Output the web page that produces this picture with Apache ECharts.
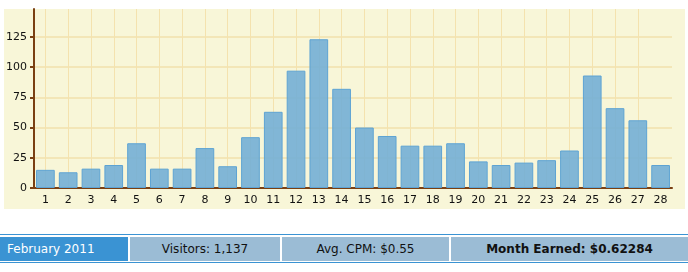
<!DOCTYPE html>
<html><head><meta charset="utf-8">
<script src="https://cdn.jsdelivr.net/npm/echarts@6/dist/echarts.min.js"></script>
<style>
html,body{margin:0;padding:0;width:688px;height:272px;background:#fff;overflow:hidden;font-family:"DejaVu Sans",Verdana,sans-serif;}
#bg{position:absolute;left:4px;top:9px;width:681px;height:200px;background:#f8f6d8;}
#chart{position:absolute;left:0;top:0;width:688px;height:215px;}
#info{position:absolute;left:0;top:234px;width:688px;height:27px;border-top:1px solid #3a93d3;border-bottom:1px solid #3a93d3;}
.cell{position:absolute;top:2px;height:24px;line-height:24px;font-size:12px;color:#111;background:#9bbcd5;text-align:center;}
</style></head>
<body>
<div id="bg"></div>
<div id="chart"></div>
<div id="info">
  <div class="cell" style="left:0;width:128px;background:#3a93d3;color:#fff;text-align:left;padding-left:7px;box-sizing:border-box;">February 2011</div>
  <div class="cell" style="left:130px;width:150px;">Visitors: 1,137</div>
  <div class="cell" style="left:282px;width:167px;">Avg. CPM: $0.55</div>
  <div class="cell" style="left:451px;width:237px;font-weight:bold;">Month Earned: $0.62284</div>
</div>
<script>
const days = ['1','2','3','4','5','6','7','8','9','10','11','12','13','14','15','16','17','18','19','20','21','22','23','24','25','26','27','28'];
const visitors = [15,13,16,19,37,16,16,33,18,42,63,97,123,82,50,43,35,35,37,22,19,21,23,31,93,66,56,19];
const yTicks = [0,25,50,75,100,125];

const chart = echarts.init(document.getElementById('chart'), null, {renderer:'canvas'});
const brown = '#7a3f12';
chart.setOption({
  animation:false,
  grid:{left:34, right:16, top:9, bottom:27, containLabel:false},
  xAxis:{
    type:'category', data:days, boundaryGap:true,
    axisLine:{lineStyle:{color:brown,width:2}},
    axisTick:{alignWithLabel:true,length:5,lineStyle:{color:'#8a5a30',width:2}},
    axisLabel:{color:'#111',fontSize:11,fontFamily:'DejaVu Sans',margin:7},
    splitLine:{show:true,alignWithLabel:true,showMaxLine:false,lineStyle:{color:'#f4e2ae',width:1}}
  },
  yAxis:{
    type:'value', min:0, max:148, interval:25,
    axisLine:{show:true,lineStyle:{color:brown,width:2}},
    axisTick:{show:true,length:4,lineStyle:{color:brown,width:2}},
    axisLabel:{color:'#111',fontSize:11,fontFamily:'DejaVu Sans',margin:7,showMaxLabel:false,
      formatter:v=>yTicks.includes(v)?String(v):''},
    splitLine:{show:true,showMaxLine:false,lineStyle:{color:'#f2e0ac',width:1.5}}
  },
  series:[{
    type:'bar', data:visitors, barCategoryGap:'18%',
    itemStyle:{color:'rgba(115,175,214,0.9)',borderColor:'#5ea3d3',borderWidth:1}
  }]
});
</script>
</body></html>
